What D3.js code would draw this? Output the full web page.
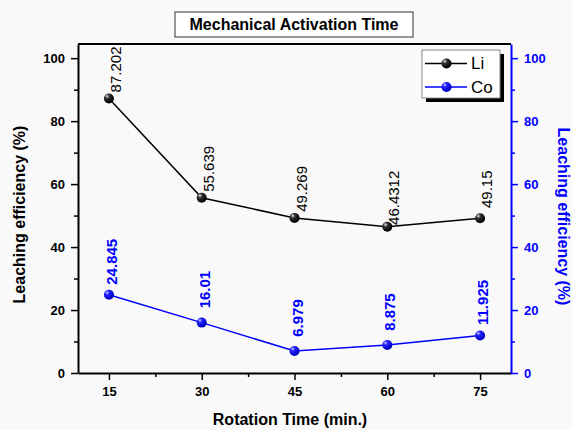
<!DOCTYPE html>
<html><head><meta charset="utf-8">
<script src="https://cdn.jsdelivr.net/npm/d3@7"></script>
<style>body{margin:0;background:#fff;font-family:Arial,"Liberation Sans",sans-serif;}</style>
</head><body>
<svg id="c" width="572" height="430"></svg>
<script>
const times = [15, 30, 45, 60, 75];
const liValues = [87.202, 55.639, 49.269, 46.4312, 49.15];
const coValues = [24.845, 16.01, 6.979, 8.875, 11.925];
const liLabels = ["87.202", "55.639", "49.269", "46.4312", "49.15"];
const coLabels = ["24.845", "16.01", "6.979", "8.875", "11.925"];
const xTicks = [15, 30, 45, 60, 75];
const xMinorTicks = [22.5, 37.5, 52.5, 67.5];
const yTicks = [0, 20, 40, 60, 80, 100];
const yMinorTicks = [10, 30, 50, 70, 90];
const seriesNames = ["Li", "Co"];

const svg = d3.select("#c");
const F = 'Arial,"Liberation Sans",sans-serif';
svg.append("rect").attr("width",572).attr("height",430).attr("fill","#f9f9f9");

const L=78, R=511, T=44, B=373;
const x = d3.scaleLinear().domain([10,80]).range([L,R]);
const y = d3.scaleLinear().domain([0,104.5]).range([B,T]);

// gradients
const defs = svg.append("defs");
function grad(id, light, mid, dark){
  const g = defs.append("radialGradient").attr("id",id).attr("cx","35%").attr("cy","30%").attr("r","65%").attr("fx","32%").attr("fy","28%");
  g.append("stop").attr("offset","0%").attr("stop-color",light);
  g.append("stop").attr("offset","35%").attr("stop-color",mid);
  g.append("stop").attr("offset","100%").attr("stop-color",dark);
}
grad("gLi","#e8e8e8","#303030","#000");
grad("gCo","#c8c8ff","#2020ff","#0000c0");

// plot frame top
svg.append("line").attr("x1",L).attr("x2",R).attr("y1",T).attr("y2",T).attr("stroke","#000").attr("stroke-width",2);

// axes
function styleAxis(g, color){
  g.selectAll("path").attr("stroke",color).attr("stroke-width",2);
  g.selectAll("line").attr("stroke",color).attr("stroke-width",1.5);
  g.selectAll("text").attr("fill",color).attr("font-family",F).attr("font-size",13).attr("font-weight","bold");
}
const xAx = svg.append("g").attr("transform",`translate(0,${B})`)
  .call(d3.axisBottom(x).tickValues(xTicks).tickSize(7).tickPadding(7).tickSizeOuter(0));
styleAxis(xAx,"#000");
svg.append("g").attr("transform",`translate(0,${B})`)
  .call(d3.axisBottom(x).tickValues(xMinorTicks).tickSize(4).tickFormat("").tickSizeOuter(0))
  .call(g=>{g.select("path").remove(); g.selectAll("line").attr("stroke","#000").attr("stroke-width",1.5);});

const yAx = svg.append("g").attr("transform",`translate(${L},0)`)
  .call(d3.axisLeft(y).tickValues(yTicks).tickSize(7).tickPadding(6).tickSizeOuter(0));
styleAxis(yAx,"#000");
svg.append("g").attr("transform",`translate(${L},0)`)
  .call(d3.axisLeft(y).tickValues(yMinorTicks).tickSize(4).tickFormat(""))
  .call(g=>{g.select("path").remove(); g.selectAll("line").attr("stroke","#000").attr("stroke-width",1.5);});

const yAxR = svg.append("g").attr("transform",`translate(${R},0)`)
  .call(d3.axisRight(y).tickValues(yTicks).tickSize(7).tickPadding(6).tickSizeOuter(0));
styleAxis(yAxR,"#0000ff");
svg.append("g").attr("transform",`translate(${R},0)`)
  .call(d3.axisRight(y).tickValues(yMinorTicks).tickSize(4).tickFormat(""))
  .call(g=>{g.select("path").remove(); g.selectAll("line").attr("stroke","#0000ff").attr("stroke-width",1.5);});

// lines
const line = d3.line().x((d,i)=>x(times[i])).y(d=>y(d));
svg.append("path").datum(liValues).attr("d",line).attr("fill","none").attr("stroke","#000").attr("stroke-width",1.5);
svg.append("path").datum(coValues).attr("d",line).attr("fill","none").attr("stroke","#0000ff").attr("stroke-width",1.5);

svg.append("g").selectAll("circle").data(liValues).join("circle")
  .attr("cx",(d,i)=>x(times[i])).attr("cy",d=>y(d)).attr("r",5).attr("fill","url(#gLi)");
svg.append("g").selectAll("circle").data(coValues).join("circle")
  .attr("cx",(d,i)=>x(times[i])).attr("cy",d=>y(d)).attr("r",5).attr("fill","url(#gCo)");

// labels
svg.append("g").selectAll("text").data(liValues).join("text")
  .attr("transform",(d,i)=>`translate(${x(times[i])+12},${y(d)-29}) rotate(-90)`)
  .attr("text-anchor","middle").attr("font-family",F).attr("font-size",15).attr("fill","#000")
  .text((d,i)=>liLabels[i]);
svg.append("g").selectAll("text").data(coValues).join("text")
  .attr("transform",(d,i)=>`translate(${x(times[i])+8},${y(d)-33}) rotate(-90)`)
  .attr("text-anchor","middle").attr("font-family",F).attr("font-size",15).attr("font-weight","bold").attr("fill","#0000ff")
  .text((d,i)=>coLabels[i]);

// axis titles
svg.append("text").attr("transform",`translate(25,${(T+B)/2+6}) rotate(-90)`).attr("text-anchor","middle")
  .attr("font-family",F).attr("font-size",16).attr("font-weight","bold").text("Leaching efficiency (%)");
svg.append("text").attr("transform",`translate(558,${(T+B)/2+8}) rotate(90)`).attr("text-anchor","middle")
  .attr("font-family",F).attr("font-size",16).attr("font-weight","bold").attr("fill","#0000ff").text("Leaching efficiency (%)");
svg.append("text").attr("x",290).attr("y",425).attr("text-anchor","middle")
  .attr("font-family",F).attr("font-size",16).attr("font-weight","bold").text("Rotation Time (min.)");

// title box
svg.append("rect").attr("x",175).attr("y",12).attr("width",238).attr("height",25).attr("fill","#fff").attr("stroke","#333").attr("stroke-width",1);
svg.append("text").attr("x",294).attr("y",30).attr("text-anchor","middle")
  .attr("font-family",F).attr("font-size",16).attr("font-weight","bold").text("Mechanical Activation Time");

// legend
const lg = svg.append("g");
lg.append("rect").attr("x",426).attr("y",54).attr("width",78).attr("height",48).attr("fill","#000");
lg.append("rect").attr("x",422).attr("y",50).attr("width",78).attr("height",48).attr("fill","#fff").attr("stroke","#888").attr("stroke-width",1);
const legColors = ["#000","#0000ff"], legGrad=["url(#gLi)","url(#gCo)"];
seriesNames.forEach((n,i)=>{
  const yy = 63.5 + i*23.5;
  lg.append("line").attr("x1",425).attr("x2",467).attr("y1",yy).attr("y2",yy).attr("stroke",legColors[i]).attr("stroke-width",1.5);
  lg.append("circle").attr("cx",446.5).attr("cy",yy).attr("r",5).attr("fill",legGrad[i]);
  lg.append("text").attr("x",471).attr("y",yy+5.5).attr("font-family",F).attr("font-size",17).attr("fill","#000").text(n);
});
</script>
</body></html>
